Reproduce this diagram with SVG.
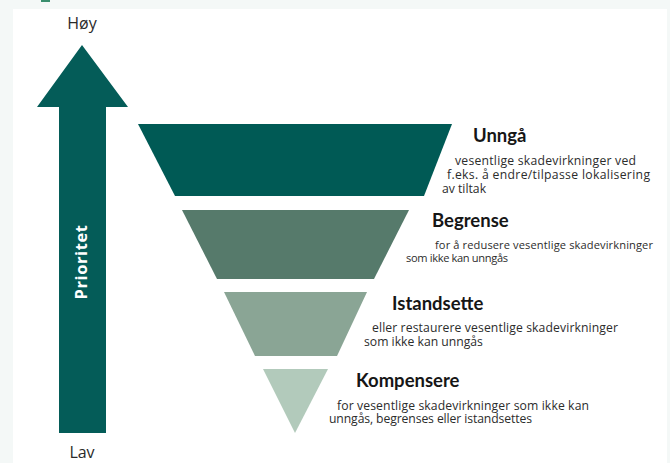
<svg xmlns="http://www.w3.org/2000/svg" width="670" height="463" viewBox="0 0 670 463">
  <style>
    .title { font-family: Lato, "Liberation Sans", sans-serif; font-weight: bold; font-size: 18.5px; fill: #161616; }
    .desc { font-family: "Open Sans", "Liberation Sans", sans-serif; font-size: 12.2px; fill: #2c2c2c; }
    .small { font-size: 11.1px; }
    .axis { font-family: "Open Sans", "Liberation Sans", sans-serif; font-size: 16px; fill: #2a2a2a; }
  </style>
  <rect x="0" y="0" width="670" height="463" fill="#f4f8f7"/>
  <rect x="13" y="9" width="654" height="454" fill="#ffffff"/>
  <rect x="41" y="0" width="9" height="2" fill="#3a8f6e"/>

  <g id="priority-arrow">
    <polygon points="82,45 128,107 106,107 106,433 59,433 59,107 37,107" fill="#045c58"/>
    <text class="axis" x="82" y="29" text-anchor="middle">Høy</text>
    <text class="axis" x="82" y="458" text-anchor="middle">Lav</text>
    <text x="0" y="0" transform="translate(87,262) rotate(-90)" text-anchor="middle" font-family="'Open Sans', 'Liberation Sans', sans-serif" font-weight="bold" font-size="16.5" letter-spacing="0.6" fill="#ffffff">Prioritet</text>
  </g>

  <g id="unnga">
    <polygon points="138,124 452,124 424,196 175,196" fill="#005a55"/>
    <text class="title" x="473" y="142">Unngå</text>
    <text class="desc" x="455" y="165" textLength="181">vesentlige skadevirkninger ved</text>
    <text class="desc" x="447" y="179" textLength="203">f.eks. å endre/tilpasse lokalisering</text>
    <text class="desc" x="442" y="193">av tiltak</text>
  </g>

  <g id="begrense">
    <polygon points="182,210 409,210 374,279 217,279" fill="#567a6b"/>
    <text class="title" x="432" y="227">Begrense</text>
    <text class="desc small" x="435" y="249" textLength="218">for å redusere vesentlige skadevirkninger</text>
    <text class="desc small" x="406" y="262" textLength="102">som ikke kan unngås</text>
  </g>

  <g id="istandsette">
    <polygon points="224,292 367,292 337,356 255,356" fill="#8aa595"/>
    <text class="title" x="392" y="310">Istandsette</text>
    <text class="desc" x="372" y="332" textLength="246">eller restaurere vesentlige skadevirkninger</text>
    <text class="desc" x="364" y="346">som ikke kan unngås</text>
  </g>

  <g id="kompensere">
    <polygon points="263,369 328,369 295,433" fill="#b2cabb"/>
    <text class="title" x="356" y="387">Kompensere</text>
    <text class="desc" x="337" y="410" textLength="252">for vesentlige skadevirkninger som ikke kan</text>
    <text class="desc" x="329" y="423" textLength="203">unngås, begrenses eller istandsettes</text>
  </g>

  <g id="connectors"></g>
</svg>
